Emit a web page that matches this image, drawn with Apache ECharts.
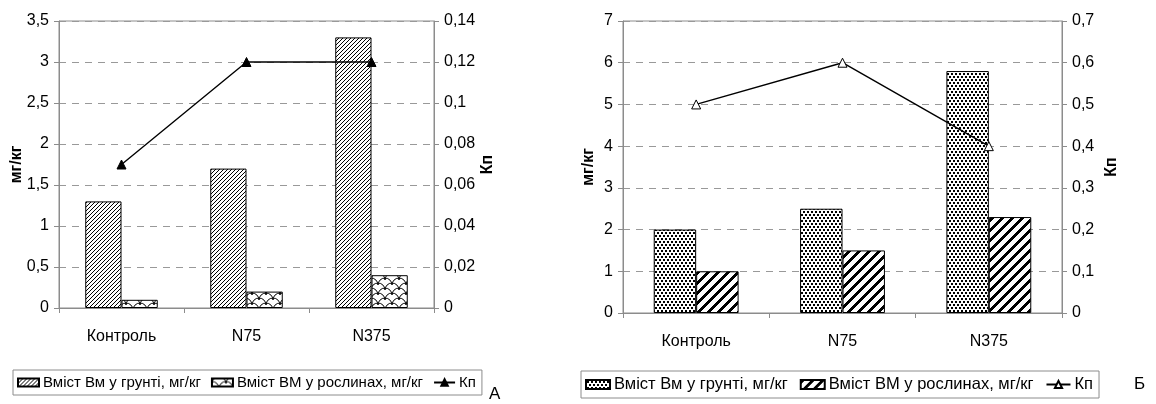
<!DOCTYPE html>
<html><head><meta charset="utf-8">
<script src="https://cdn.jsdelivr.net/npm/echarts@6/dist/echarts.min.js"></script>
<style>
html,body{margin:0;padding:0;background:#fff;}
#a{position:absolute;left:0;top:0;width:578px;height:404px;}
#b{position:absolute;left:578px;top:0;width:578px;height:404px;}
</style></head>
<body>
<div id="a"></div><div id="b"></div>
<script>
const categories = ['Контроль', 'N75', 'N375'];
const seriesNames = ['Вміст Вм у грунті, мг/кг', 'Вміст ВМ у рослинах, мг/кг', 'Кп'];
// Chart А
const soilA = [1.3, 1.7, 3.3];
const plantA = [0.1, 0.2, 0.4];
const kpA = [0.07, 0.12, 0.12];
// Chart Б
const soilB = [2, 2.5, 5.8];
const plantB = [1, 1.5, 2.3];
const kpB = [0.5, 0.6, 0.4];
const axisNameLeft = 'мг/кг';
const axisNameRight = 'Кп';
const panelLetters = ['А', 'Б'];

const FONT = "'Liberation Sans',Arial,sans-serif";
const GRAY = '#8c8c8c';

function pat(w, h, fn) {
  const c = document.createElement('canvas');
  c.width = w; c.height = h;
  const g = c.getContext('2d');
  g.fillStyle = '#fff'; g.fillRect(0, 0, w, h);
  g.fillStyle = '#000'; g.strokeStyle = '#000';
  fn(g, w, h);
  return { image: c, repeat: 'repeat' };
}
function diag(period, thick) {
  return pat(period, period, (g, w, h) => {
    for (let x = 0; x < w; x++) for (let y = 0; y < h; y++)
      if ((x + y) % period < thick) g.fillRect(x, y, 1, 1);
  });
}
const patSoilA = diag(4, 1);
const patPlantA = pat(14, 10, (g) => {
  g.lineWidth = 1;
  for (let i = -1; i <= 2; i++) for (let j = -1; j <= 2; j++) {
    [[i * 14, j * 10], [i * 14 + 7, j * 10 + 5]].forEach(([cx, cy]) => {
      g.beginPath(); g.arc(cx, cy, 7, Math.PI, 2 * Math.PI); g.stroke();
    });
  }
});
const patSoilB = pat(8, 6, (g) => {
  g.fillRect(1, 1, 2, 2); g.fillRect(5, 1, 2, 2);
  g.fillRect(3, 4, 2, 2); g.fillRect(7, 4, 1, 2); g.fillRect(0, 4, 1, 2);
});
const patPlantB = diag(10, 4);

function fmt(d) { return v => String(+(+v).toFixed(d)).replace('.', ','); }

function makeOption(cfg) {
  return {
    animation: false,
    textStyle: { fontFamily: FONT },
    grid: { left: cfg.grid[0], right: cfg.grid[1], top: cfg.grid[2], bottom: cfg.grid[3],
            outerBoundsMode: 'none', containLabel: false,
            show: true, borderColor: GRAY, borderWidth: 1, backgroundColor: 'transparent' },
    legend: {
      left: cfg.legend[0], top: cfg.legend[1],
      orient: 'horizontal',
      data: [{ name: seriesNames[0], icon: 'rect' }, { name: seriesNames[1], icon: 'rect' }, { name: seriesNames[2] }],
      itemWidth: cfg.legendItem[0], itemHeight: cfg.legendItem[1], itemGap: cfg.legendGap,
      borderColor: GRAY, borderWidth: 1, padding: [5, 6, 5, 4],
      textStyle: { fontFamily: FONT, fontSize: cfg.legendFont, color: '#000', padding: [0, 0, 0, -1] },
      selectedMode: false
    },
    xAxis: {
      type: 'category', data: categories,
      axisLine: { lineStyle: { color: GRAY } },
      axisTick: { show: true, length: 5, lineStyle: { color: GRAY } },
      axisLabel: { color: '#000', fontSize: 16, margin: 21, fontFamily: FONT }
    },
    yAxis: [
      { type: 'value', min: 0, max: cfg.leftMax, interval: cfg.leftInt, position: 'left',
        name: axisNameLeft, nameLocation: 'middle', nameRotate: 90, nameGap: cfg.nameGap[0],
        nameMoveOverlap: false,
        nameTextStyle: { fontWeight: 'bold', fontSize: 16, color: '#000', fontFamily: FONT },
        axisLine: { show: true, lineStyle: { color: GRAY } },
        axisTick: { show: true, length: 5, lineStyle: { color: GRAY } },
        axisLabel: { color: '#000', fontSize: 16, margin: 10, formatter: fmt(1), fontFamily: FONT },
        splitLine: { show: true, lineStyle: { color: '#999', type: [7, 6], width: 1 } } },
      { type: 'value', min: 0, max: cfg.rightMax, interval: cfg.rightInt, position: 'right',
        name: axisNameRight, nameLocation: 'middle', nameRotate: 90, nameGap: cfg.nameGap[1],
        nameMoveOverlap: false,
        nameTextStyle: { fontWeight: 'bold', fontSize: 16, color: '#000', fontFamily: FONT },
        axisLine: { show: true, lineStyle: { color: GRAY } },
        axisTick: { show: true, length: 5, lineStyle: { color: GRAY } },
        axisLabel: { color: '#000', fontSize: 16, margin: 10, formatter: fmt(2), fontFamily: FONT },
        splitLine: { show: false } }
    ],
    series: [
      { name: seriesNames[0], type: 'bar', data: cfg.soil, barGap: '0%', barCategoryGap: '42%',
        itemStyle: { color: cfg.patSoil, borderColor: '#000', borderWidth: 1 } },
      { name: seriesNames[1], type: 'bar', data: cfg.plant, barGap: '0%', barCategoryGap: '42%',
        itemStyle: { color: cfg.patPlant, borderColor: '#000', borderWidth: 1 } },
      { name: seriesNames[2], type: 'line', yAxisIndex: 1, data: cfg.kp, z: 5,
        symbol: 'triangle', symbolSize: 9,
        lineStyle: { color: '#000', width: 1.4 },
        itemStyle: { color: cfg.hollow ? '#fff' : '#000', borderColor: '#000', borderWidth: 1 } }
    ],
    graphic: [{ type: 'text', left: cfg.letter[0], top: cfg.letter[1],
      style: { text: cfg.letterText, font: "17px 'Liberation Sans',Arial,sans-serif", fill: '#000' } }]
  };
}

const chartA = echarts.init(document.getElementById('a'), null, { renderer: 'canvas' });
chartA.setOption(makeOption({
  grid: [59, 144, 21, 96], legend: [13, 370], nameGap: [34, 46],
  legendFont: 15, legendItem: [21, 8], legendGap: 10,
  leftMax: 3.5, leftInt: 0.5, rightMax: 0.14, rightInt: 0.02,
  soil: soilA, plant: plantA, kp: kpA, patSoil: patSoilA, patPlant: patPlantA, hollow: false,
  letter: [489, 386], letterText: panelLetters[0]
}));
const chartB = echarts.init(document.getElementById('b'), null, { renderer: 'canvas' });
chartB.setOption(makeOption({
  grid: [45, 94, 21, 91], legend: [3, 371], nameGap: [26, 42],
  legendFont: 16.5, legendItem: [24, 9], legendGap: 12,
  leftMax: 7, leftInt: 1, rightMax: 0.7, rightInt: 0.1,
  soil: soilB, plant: plantB, kp: kpB, patSoil: patSoilB, patPlant: patPlantB, hollow: true,
  letter: [556, 376], letterText: panelLetters[1]
}));
</script>
</body></html>
